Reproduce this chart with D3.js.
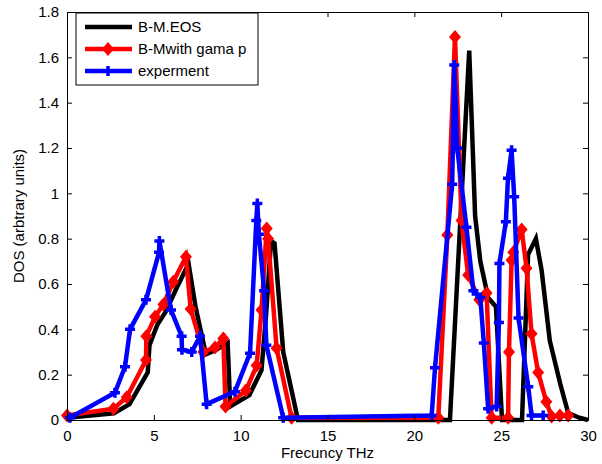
<!DOCTYPE html>
<html>
<head>
<meta charset="utf-8">
<script src="https://cdnjs.cloudflare.com/ajax/libs/d3/7.8.5/d3.min.js"></script>
<style>
  body { margin: 0; background: #fff; }
  text { font-family: "Liberation Sans", Arial, sans-serif; }
</style>
</head>
<body>
<div id="chart"></div>
<script>
const width = 602;
const height = 464;
const margin = { top: 12, right: 14, bottom: 44, left: 67 };

// B-M.EOS (black, no markers)
const eosX = [0, 2.7, 3.6, 4.65, 4.75, 5.2, 5.7, 6.3, 7.0, 7.4, 8.0, 8.6, 9.25, 9.4, 10.5, 11.2, 11.45, 11.75, 11.95, 12.45, 13.3, 22.05, 23.16, 23.5, 23.8, 24.25, 24.7, 25.05, 26.2, 26.55, 27.0, 27.33, 27.8, 28.4, 28.86, 29.5, 30];
const eosY = [0.01, 0.03, 0.07, 0.21, 0.33, 0.42, 0.48, 0.58, 0.69, 0.5, 0.29, 0.31, 0.34, 0.06, 0.11, 0.22, 0.45, 0.79, 0.78, 0.3, 0.0, 0.0, 1.63, 0.9, 0.7, 0.54, 0.5, 0.0, 0.0, 0.73, 0.8, 0.66, 0.35, 0.16, 0.03, 0.01, 0.0];

// B-Mwith gama p (red, diamonds)
const gamaX = [0, 2.67, 3.44, 4.55, 4.57, 5.07, 5.55, 6.12, 6.85, 7.12, 7.85, 8.52, 9.0, 9.13, 10.3, 10.92, 11.2, 11.5, 11.58, 12.07, 12.93, 21.38, 21.9, 22.34, 22.72, 23.1, 23.74, 24.16, 24.45, 25.4, 25.45, 25.6, 25.7, 26.18, 26.46, 26.75, 27.13, 27.6, 27.9, 28.38, 28.86];
const gamaY = [0.02, 0.05, 0.1, 0.265, 0.37, 0.455, 0.51, 0.61, 0.72, 0.49, 0.3, 0.32, 0.36, 0.06, 0.13, 0.24, 0.485, 0.845, 0.8, 0.316, 0.01, 0.01, 0.816, 1.69, 0.88, 0.64, 0.53, 0.56, 0.01, 0.01, 0.3, 0.705, 0.74, 0.84, 0.67, 0.38, 0.21, 0.08, 0.015, 0.02, 0.02];

// experment (blue, plus markers)
const expX = [0.17, 2.76, 3.34, 3.63, 4.55, 5.3, 5.32, 5.99, 6.6, 6.62, 7.18, 7.66, 8.04, 9.67, 10.54, 10.9, 10.96, 11.05, 11.35, 11.48, 12.45, 21.0, 21.19, 22.18, 22.3, 22.47, 23.0, 23.4, 23.8, 24.0, 24.25, 24.74, 24.87, 24.9, 25.27, 25.39, 25.6, 25.75, 26.0, 26.56, 26.75, 27.42];
const expY = [0.01, 0.12, 0.235, 0.4, 0.53, 0.74, 0.79, 0.485, 0.37, 0.31, 0.3, 0.37, 0.07, 0.125, 0.295, 0.88, 0.955, 0.82, 0.57, 0.33, 0.01, 0.02, 0.23, 1.04, 1.566, 1.2, 0.85, 0.57, 0.54, 0.34, 0.05, 0.06, 0.43, 0.69, 0.875, 1.066, 1.19, 0.985, 0.45, 0.147, 0.02, 0.02];

const xTicks = [0, 5, 10, 15, 20, 25, 30];
const yTicks = [0, 0.2, 0.4, 0.6, 0.8, 1, 1.2, 1.4, 1.6, 1.8];
const legendLabels = ["B-M.EOS", "B-Mwith gama p", "experment"];

const svg = d3.select("#chart").append("svg")
  .attr("width", width)
  .attr("height", height);

const x = d3.scaleLinear().domain([0, 30]).range([margin.left, width - margin.right]);
const y = d3.scaleLinear().domain([0, 1.8]).range([height - margin.bottom, margin.top]);

const zip = (xs, ys) => xs.map((v, i) => [v, ys[i]]);
const line = d3.line().x(d => x(d[0])).y(d => y(d[1]));

const series = [
  { name: legendLabels[0], data: zip(eosX, eosY), color: "#000", marker: null },
  { name: legendLabels[1], data: zip(gamaX, gamaY), color: "#ff0000", marker: "diamond" },
  { name: legendLabels[2], data: zip(expX, expY), color: "#0000ff", marker: "plus" }
];

const diamond = "M0,-7L6,0L0,7L-6,0Z";
const plus = "M-5,0H5M0,-5V5";

const plot = svg.append("g");
series.forEach(s => {
  plot.append("path")
    .datum(s.data)
    .attr("fill", "none")
    .attr("stroke", s.color)
    .attr("stroke-width", 4.5)
    .attr("d", line);
  if (s.marker === "diamond") {
    plot.selectAll(null).data(s.data).enter().append("path")
      .attr("transform", d => `translate(${x(d[0])},${y(d[1])})`)
      .attr("d", diamond)
      .attr("fill", s.color);
  } else if (s.marker === "plus") {
    plot.selectAll(null).data(s.data).enter().append("path")
      .attr("transform", d => `translate(${x(d[0])},${y(d[1])})`)
      .attr("d", plus)
      .attr("stroke", s.color)
      .attr("stroke-width", 3.5);
  }
});

// eixos com ticks para dentro
const fmt = d => (d === 0 || d === 1) ? d3.format("d")(d) : d3.format(".1f")(d);
const xb = svg.append("g").attr("transform", `translate(0,${height - margin.bottom})`)
  .call(d3.axisBottom(x).tickValues(xTicks).tickSize(-5).tickPadding(10));
const xt = svg.append("g").attr("transform", `translate(0,${margin.top})`)
  .call(d3.axisTop(x).tickValues(xTicks).tickSize(-5).tickFormat(""));
const yl = svg.append("g").attr("transform", `translate(${margin.left},0)`)
  .call(d3.axisLeft(y).tickValues(yTicks).tickSize(-5).tickPadding(8).tickFormat(fmt));
const yr = svg.append("g").attr("transform", `translate(${width - margin.right},0)`)
  .call(d3.axisRight(y).tickValues(yTicks).tickSize(-5).tickFormat(""));

[xb, xt, yl, yr].forEach(g => {
  g.select(".domain").attr("stroke", "#000");
  g.selectAll(".tick line").attr("stroke", "#000");
  g.selectAll("text").attr("font-size", 15).attr("fill", "#000")
    .attr("font-family", "Liberation Sans, Arial, sans-serif");
});

svg.append("text")
  .attr("x", x(15))
  .attr("y", height - 6)
  .attr("text-anchor", "middle")
  .attr("font-size", 15)
  .text("Frecuncy THz");

svg.append("text")
  .attr("transform", `translate(24,${(margin.top + height - margin.bottom) / 2}) rotate(-90)`)
  .attr("text-anchor", "middle")
  .attr("font-size", 15)
  .text("DOS (arbtrary units)");

// legenda
const legend = svg.append("g").attr("transform", "translate(76,13)");
legend.append("rect")
  .attr("width", 182).attr("height", 72)
  .attr("fill", "#fff").attr("stroke", "#000");
series.forEach((s, i) => {
  const ly = 14 + i * 22;
  legend.append("line")
    .attr("x1", 9).attr("x2", 56).attr("y1", ly).attr("y2", ly)
    .attr("stroke", s.color).attr("stroke-width", 4.5);
  if (s.marker === "diamond") {
    legend.append("path").attr("transform", `translate(32,${ly})`).attr("d", diamond).attr("fill", s.color);
  } else if (s.marker === "plus") {
    legend.append("path").attr("transform", `translate(32,${ly})`).attr("d", plus)
      .attr("stroke", s.color).attr("stroke-width", 3.5);
  }
  legend.append("text")
    .attr("x", 62).attr("y", ly + 5)
    .attr("font-size", 15)
    .text(s.name);
});
</script>
</body>
</html>
